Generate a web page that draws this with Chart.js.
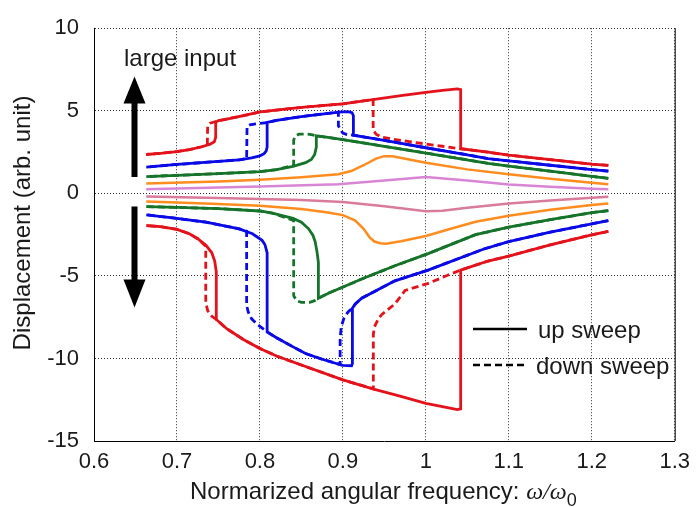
<!DOCTYPE html>
<html>
<head>
<meta charset="utf-8">
<script src="https://cdn.jsdelivr.net/npm/chart.js@4.4.0/dist/chart.umd.min.js"></script>
<style>
  html, body { margin: 0; padding: 0; background: #fff; }
  #wrap { width: 698px; height: 507px; position: relative; }
</style>
</head>
<body>
<div id="wrap"><canvas id="chart"></canvas></div>
<script>
// axis ticks
const xTickValues = [0.6, 0.7, 0.8, 0.9, 1.0, 1.1, 1.2, 1.3];
const xTickLabels = ['0.6', '0.7', '0.8', '0.9', '1', '1.1', '1.2', '1.3'];
const yTickValues = [-15, -10, -5, 0, 5, 10];
const yTickLabels = ['-15', '-10', '-5', '0', '5', '10'];

// [omega/omega0, displacement]
// positive side
const redPosUp = [[0.663,2.35],[0.68,2.42],[0.70,2.53],[0.715,2.65],[0.73,2.82],[0.74,2.98],[0.745,3.12],[0.7467,3.4],[0.7467,4.3],[0.75,4.4],[0.76,4.5],[0.78,4.7],[0.80,4.93],[0.85,5.2],[0.90,5.42],[0.936,5.68],[0.97,5.92],[1.0,6.12],[1.02,6.24],[1.038,6.33],[1.042,6.28],[1.042,2.7],[1.075,2.49],[1.1,2.31],[1.15,2.04],[1.2,1.77],[1.22,1.69]];
const redPosDown = [[1.22,1.69],[1.2,1.77],[1.15,2.04],[1.1,2.31],[1.075,2.49],[1.042,2.7],[1.02,2.85],[1.0,2.99],[0.98,3.13],[0.96,3.28],[0.947,3.4],[0.94,3.58],[0.9365,3.85],[0.9365,5.68],[0.90,5.42],[0.85,5.2],[0.80,4.93],[0.78,4.7],[0.76,4.5],[0.7467,4.35],[0.74,4.25],[0.737,4.1],[0.7366,2.94],[0.73,2.82],[0.715,2.65],[0.70,2.53],[0.68,2.42],[0.663,2.35]];
const bluePosUp = [[0.663,1.59],[0.7,1.75],[0.75,1.93],[0.775,2.03],[0.79,2.15],[0.8,2.27],[0.805,2.4],[0.8075,2.55],[0.8087,2.8],[0.8087,4.29],[0.82,4.42],[0.85,4.65],[0.88,4.83],[0.895,4.92],[0.906,4.95],[0.911,4.88],[0.9127,4.7],[0.9127,3.52],[0.93,3.38],[0.95,3.2],[1.0,2.76],[1.05,2.33],[1.075,2.1],[1.1,1.96],[1.15,1.7],[1.2,1.44],[1.22,1.34]];
const bluePosDown = [[1.22,1.34],[1.2,1.44],[1.15,1.7],[1.1,1.96],[1.075,2.1],[1.05,2.33],[1.0,2.76],[0.95,3.2],[0.93,3.38],[0.9127,3.52],[0.905,3.56],[0.9,3.65],[0.897,3.85],[0.8946,4.1],[0.8946,4.92],[0.88,4.83],[0.85,4.65],[0.82,4.42],[0.8087,4.29],[0.795,4.2],[0.788,4.15],[0.7845,4.05],[0.784,2.1],[0.775,2.03],[0.75,1.93],[0.7,1.75],[0.663,1.59]];
const greenPosUp = [[0.663,1.01],[0.7,1.09],[0.75,1.19],[0.8,1.31],[0.82,1.43],[0.84,1.63],[0.855,1.86],[0.862,2.05],[0.866,2.35],[0.868,2.8],[0.868,3.48],[0.88,3.4],[0.9,3.25],[0.95,2.85],[1.0,2.44],[1.075,1.82],[1.1,1.65],[1.15,1.34],[1.2,1.03],[1.22,0.91]];
const greenPosDown = [[1.22,0.91],[1.2,1.03],[1.15,1.34],[1.1,1.65],[1.075,1.82],[1.0,2.44],[0.95,2.85],[0.9,3.25],[0.88,3.4],[0.868,3.48],[0.862,3.56],[0.855,3.59],[0.847,3.58],[0.842,3.45],[0.8407,3.2],[0.8407,1.7],[0.82,1.43],[0.8,1.31],[0.75,1.19],[0.7,1.09],[0.663,1.01]];
const orangePos = [[0.663,0.59],[0.75,0.72],[0.8,0.82],[0.85,0.97],[0.8946,1.15],[0.91,1.35],[0.925,1.7],[0.94,2.1],[0.95,2.25],[0.96,2.24],[1.0,1.85],[1.05,1.45],[1.1,1.15],[1.15,0.88],[1.2,0.64],[1.22,0.55]];
const violetPos = [[0.663,0.25],[0.75,0.35],[0.8,0.42],[0.8946,0.55],[0.95,0.78],[1.0,0.99],[1.05,0.78],[1.1,0.53],[1.15,0.4],[1.2,0.28],[1.22,0.25]];

// negative side
const roseNeg = [[0.663,-0.19],[0.75,-0.28],[0.85,-0.4],[0.9,-0.52],[0.95,-0.78],[1.0,-1.08],[1.02,-1.05],[1.05,-0.88],[1.1,-0.62],[1.15,-0.43],[1.2,-0.27],[1.22,-0.21]];
const orangeNeg = [[0.663,-0.49],[0.7,-0.55],[0.75,-0.64],[0.8,-0.76],[0.85,-0.95],[0.88,-1.15],[0.9,-1.32],[0.915,-1.65],[0.925,-2.15],[0.932,-2.65],[0.938,-2.92],[0.945,-3.02],[0.952,-3.05],[0.97,-2.9],[1.0,-2.58],[1.03,-2.15],[1.06,-1.72],[1.1,-1.36],[1.15,-1.0],[1.2,-0.71],[1.22,-0.61]];
const greenNegUp = [[0.663,-0.81],[0.7,-0.85],[0.75,-0.93],[0.8,-1.07],[0.815,-1.2],[0.84,-1.52],[0.85,-1.75],[0.8587,-2.15],[0.864,-2.55],[0.8667,-2.95],[0.869,-3.6],[0.8705,-4.2],[0.8705,-6.35],[0.8826,-6.05],[0.9227,-5.19],[0.9627,-4.39],[1.0027,-3.65],[1.06,-2.5],[1.1,-2.05],[1.15,-1.6],[1.2,-1.17],[1.22,-1.05]];
const greenNegDown = [[1.22,-1.05],[1.2,-1.17],[1.15,-1.6],[1.1,-2.05],[1.06,-2.5],[1.0027,-3.65],[0.9627,-4.39],[0.9227,-5.19],[0.8826,-6.05],[0.8705,-6.35],[0.866,-6.5],[0.86,-6.6],[0.85,-6.6],[0.844,-6.5],[0.8407,-6.2],[0.8407,-1.65],[0.815,-1.2],[0.8,-1.07],[0.75,-0.93],[0.7,-0.85],[0.663,-0.81]];
const blueNegUp = [[0.663,-1.3],[0.695,-1.49],[0.735,-1.75],[0.775,-2.15],[0.791,-2.45],[0.8026,-2.85],[0.806,-3.1],[0.8087,-3.6],[0.8087,-8.39],[0.82,-8.75],[0.84,-9.3],[0.855,-9.7],[0.875,-10.05],[0.895,-10.35],[0.9,-10.42],[0.9105,-10.44],[0.9115,-10.3],[0.9115,-6.95],[0.915,-6.7],[0.9227,-6.35],[0.9627,-5.3],[1.0027,-4.65],[1.07,-3.37],[1.1,-2.92],[1.15,-2.35],[1.2,-1.85],[1.22,-1.65]];
const blueNegDown = [[1.22,-1.65],[1.2,-1.85],[1.15,-2.35],[1.1,-2.92],[1.07,-3.37],[1.0027,-4.65],[0.9627,-5.3],[0.9227,-6.35],[0.915,-6.7],[0.9115,-6.95],[0.906,-7.2],[0.901,-7.6],[0.898,-8.1],[0.8967,-8.8],[0.8967,-10.37],[0.875,-10.05],[0.855,-9.7],[0.84,-9.3],[0.82,-8.75],[0.8087,-8.39],[0.797,-7.95],[0.79,-7.6],[0.786,-7.2],[0.784,-6.8],[0.784,-2.3],[0.775,-2.15],[0.735,-1.75],[0.695,-1.49],[0.663,-1.3]];
const redNegUp = [[0.663,-1.95],[0.68,-2.02],[0.7,-2.18],[0.715,-2.45],[0.725,-2.75],[0.735,-3.15],[0.742,-3.6],[0.7455,-4.1],[0.7474,-4.75],[0.7474,-7.64],[0.76,-8.2],[0.78,-8.85],[0.8,-9.4],[0.82,-9.85],[0.85,-10.4],[0.9,-11.3],[0.936,-11.84],[0.97,-12.3],[1.0,-12.72],[1.02,-12.92],[1.038,-13.1],[1.042,-13.05],[1.042,-4.65],[1.075,-4.1],[1.1,-3.8],[1.15,-3.12],[1.2,-2.51],[1.22,-2.31]];
const redNegDown = [[1.22,-2.31],[1.2,-2.51],[1.15,-3.12],[1.1,-3.8],[1.075,-4.1],[1.042,-4.65],[1.027,-4.95],[1.003,-5.45],[0.975,-5.88],[0.9627,-6.7],[0.9467,-7.35],[0.9427,-7.6],[0.938,-8.1],[0.9367,-8.55],[0.9367,-11.84],[0.9,-11.3],[0.85,-10.4],[0.82,-9.85],[0.8,-9.4],[0.78,-8.85],[0.76,-8.2],[0.7474,-7.64],[0.742,-7.45],[0.737,-7.1],[0.7347,-6.6],[0.7347,-3.2],[0.725,-2.75],[0.715,-2.45],[0.7,-2.18],[0.68,-2.02],[0.663,-1.95]];

const RED = '#e3121b', BLUE = '#0a0ae6', GREEN = '#16732a', ORANGE = '#ff8c1e', VIOLET = '#d985d6', ROSE = '#d87b9c';
const DASH = [7, 4];

function series(points, color, width, dashed) {
  return {
    data: points.map(p => ({ x: p[0], y: p[1] })),
    borderColor: color,
    borderWidth: width,
    borderDash: dashed ? DASH : [],
    showLine: true,
    fill: false,
    tension: 0,
    pointRadius: 0,
    pointHoverRadius: 0
  };
}

const FONT = '"Liberation Sans", Arial, sans-serif';
const INK = '#1a1a1a';

// annotations: axis titles, arrows, the sweep key, right frame line
const decorations = {
  id: 'decorations',
  afterDraw(chart) {
    const ctx = chart.ctx;
    const area = chart.chartArea;
    ctx.save();

    // right frame line (solid)
    ctx.strokeStyle = '#000';
    ctx.lineWidth = 1;
    ctx.beginPath();
    ctx.moveTo(area.right + 0.5, area.top);
    ctx.lineTo(area.right + 0.5, area.bottom);
    ctx.stroke();

    ctx.fillStyle = INK;
    // y title
    ctx.save();
    ctx.translate(29.5, 223);
    ctx.rotate(-Math.PI / 2);
    ctx.font = '24px ' + FONT;
    ctx.textAlign = 'center';
    ctx.textBaseline = 'alphabetic';
    ctx.fillText('Displacement (arb. unit)', 0, 0);
    ctx.restore();

    // x title
    ctx.textAlign = 'left';
    ctx.textBaseline = 'alphabetic';
    ctx.font = '24px ' + FONT;
    const t1 = 'Normarized angular frequency: ';
    let x = 190;
    const base = 498.5;
    ctx.fillText(t1, x, base);
    x += ctx.measureText(t1).width;
    ctx.font = 'italic 24px "Liberation Serif", "Times New Roman", serif';
    ctx.fillText('\u03c9/\u03c9', x, base);
    x += ctx.measureText('\u03c9/\u03c9').width;
    ctx.font = '18px ' + FONT;
    ctx.fillText('0', x, base + 7);

    // large input
    ctx.font = '24px ' + FONT;
    ctx.fillText('large input', 124, 65.5);

    // arrows
    ctx.fillStyle = '#000';
    ctx.fillRect(131.5, 102, 6, 75);
    ctx.beginPath();
    ctx.moveTo(134.5, 76.5);
    ctx.lineTo(145.5, 103.5);
    ctx.lineTo(123.5, 103.5);
    ctx.closePath();
    ctx.fill();
    ctx.fillRect(131.5, 206.5, 6, 74);
    ctx.beginPath();
    ctx.moveTo(134.5, 307.5);
    ctx.lineTo(145.5, 279.5);
    ctx.lineTo(123.5, 279.5);
    ctx.closePath();
    ctx.fill();

    // sweep key
    ctx.strokeStyle = '#000';
    ctx.lineWidth = 2.5;
    ctx.beginPath();
    ctx.moveTo(473, 329);
    ctx.lineTo(527, 329);
    ctx.stroke();
    ctx.setLineDash(DASH);
    ctx.beginPath();
    ctx.moveTo(473, 365);
    ctx.lineTo(527, 365);
    ctx.stroke();
    ctx.setLineDash([]);
    ctx.fillStyle = INK;
    ctx.font = '24px ' + FONT;
    ctx.fillText('up sweep', 538, 337.5);
    ctx.fillText('down sweep', 536, 373.5);

    ctx.restore();
  }
};

new Chart(document.getElementById('chart'), {
  type: 'scatter',
  data: {
    datasets: [
      series(violetPos, VIOLET, 2.5, false),
      series(roseNeg, ROSE, 2.5, false),
      series(orangePos, ORANGE, 2.5, false),
      series(orangeNeg, ORANGE, 2.5, false),
      series(greenPosUp, GREEN, 2.8, false),
      series(greenNegUp, GREEN, 2.8, false),
      series(greenPosDown, GREEN, 2.8, true),
      series(greenNegDown, GREEN, 2.8, true),
      series(bluePosUp, BLUE, 2.8, false),
      series(blueNegUp, BLUE, 2.8, false),
      series(bluePosDown, BLUE, 2.8, true),
      series(blueNegDown, BLUE, 2.8, true),
      series(redPosUp, RED, 2.8, false),
      series(redNegUp, RED, 2.8, false),
      series(redPosDown, RED, 2.8, true),
      series(redNegDown, RED, 2.8, true)
    ]
  },
  options: {
    responsive: true,
    maintainAspectRatio: false,
    animation: false,
    layout: { padding: { left: 0, right: 20, top: 24, bottom: 0 } },
    plugins: {
      legend: { display: false },
      tooltip: { enabled: false }
    },
    scales: {
      x: {
        type: 'linear',
        min: 0.6,
        max: 1.3,
        afterBuildTicks: scale => { scale.ticks = xTickValues.map(v => ({ value: v })); },
        afterFit: scale => { scale.height = 66; },
        ticks: {
          callback: (v, i) => xTickLabels[i],
          font: { family: FONT, size: 22 },
          color: INK,
          padding: 8,
          maxRotation: 0,
          autoSkip: false
        },
        grid: { color: 'rgba(0,0,0,0.8)', lineWidth: 1, drawTicks: false },
        border: { display: true, color: '#000', width: 1, dash: [1, 2] }
      },
      y: {
        type: 'linear',
        min: -15,
        max: 10,
        afterBuildTicks: scale => { scale.ticks = yTickValues.map(v => ({ value: v })); },
        afterFit: scale => { scale.width = 94; },
        ticks: {
          callback: (v, i) => yTickLabels[i],
          font: { family: FONT, size: 22 },
          color: INK,
          padding: 15,
          autoSkip: false
        },
        grid: { color: 'rgba(0,0,0,0.8)', lineWidth: 1, drawTicks: false },
        border: { display: true, color: '#000', width: 1, dash: [1, 2] }
      }
    }
  },
  plugins: [decorations]
});
</script>
</body>
</html>
